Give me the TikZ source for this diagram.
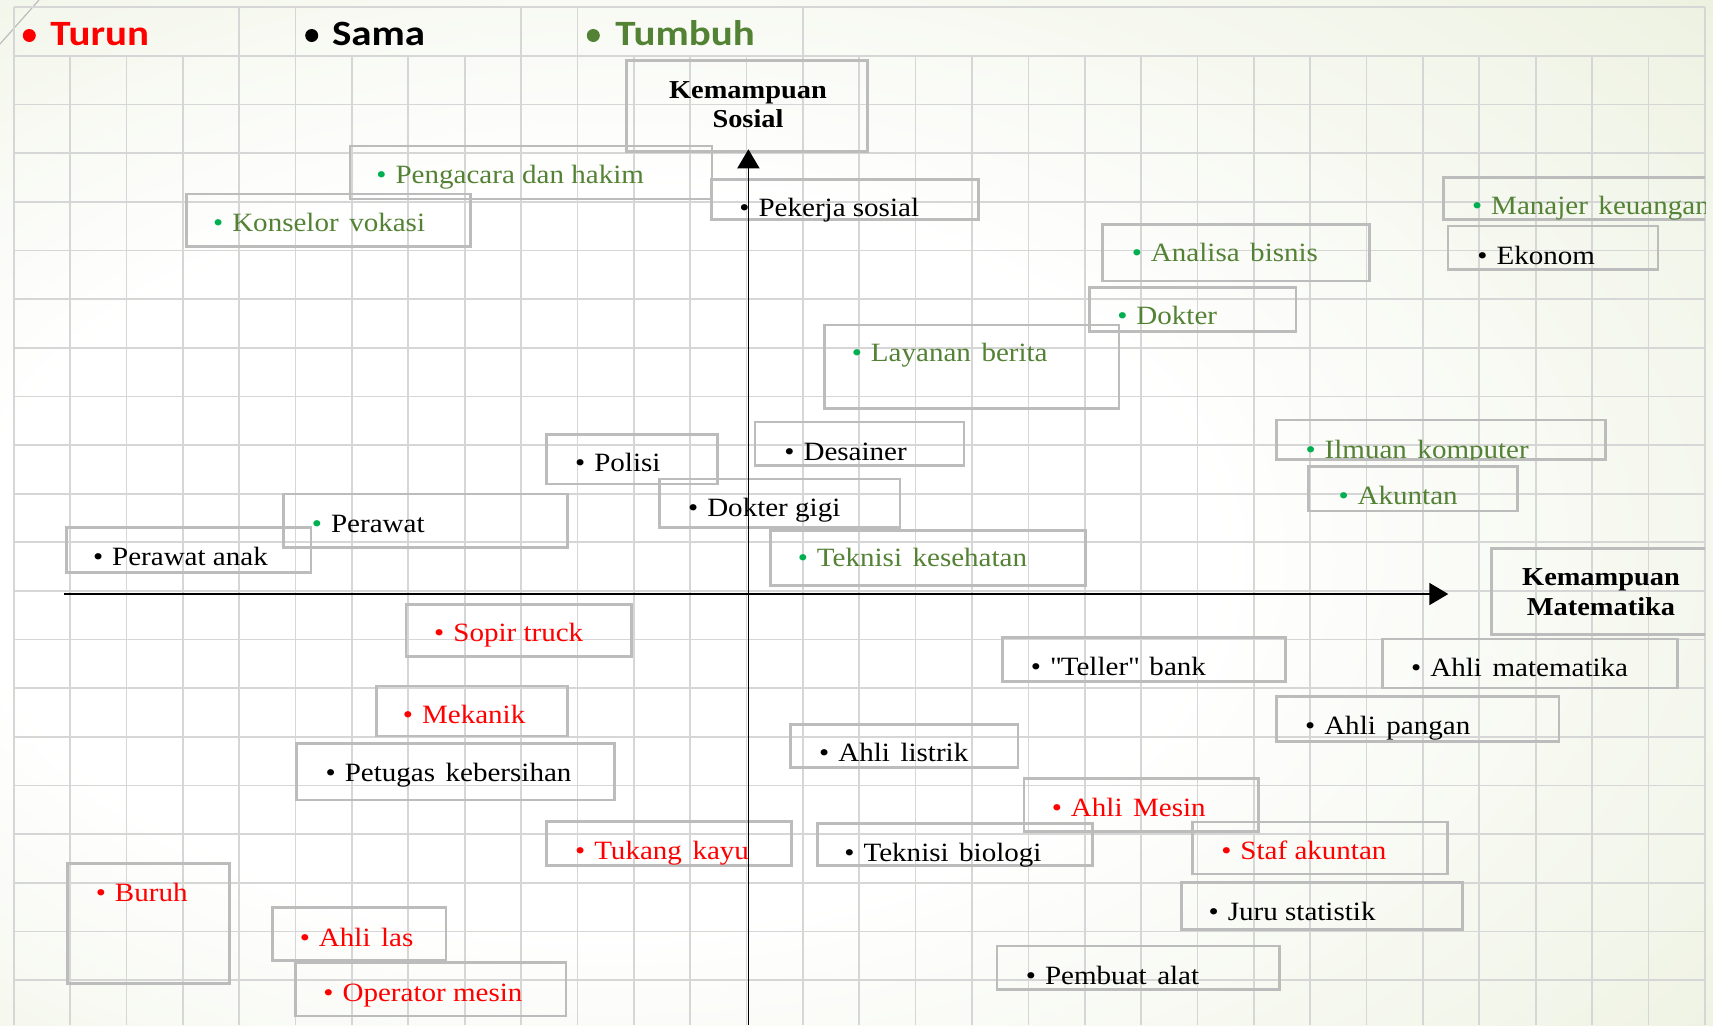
\documentclass[tikz,border=0pt]{standalone}
\usepackage{fontspec}
\setmainfont{Liberation Serif}[FakeStretch=1.1]
\newfontfamily\legfont{Carlito}[FakeStretch=1.15]
\usetikzlibrary{arrows.meta,fit}
\definecolor{gridc}{HTML}{D6D6D6}
\definecolor{boxc}{HTML}{BCBCBC}
\definecolor{tgreen}{HTML}{548235}
\definecolor{bgreen}{HTML}{00B050}
\definecolor{bgmid}{HTML}{EFF3E4}
\definecolor{bgout}{HTML}{DAE3BB}
\pgfdeclareradialshading{slidebg}{\pgfpoint{-10bp}{-3bp}}{color(0bp)=(white); color(18bp)=(white); color(38bp)=(bgmid); color(52bp)=(bgout); color(75bp)=(bgout)}
\newcommand\bul[1]{{\color{#1}\textbullet}\kern4.5pt}
\newcommand\jbx[5]{\node[jbox, fit={(#2,#3) (#4,#5)}] (#1) {};}
\newcommand\jl[6]{\node[lab,text=#5] (#1) at ({#2-5},#3) {\bul{#4}#6};}
\newcommand\dq{\XeTeXglyph\XeTeXcharglyph"0022\relax}
\newcommand\ds{\hspace{0.4em}}
\begin{document}
\begin{tikzpicture}[x=0.5pt,y=-0.5pt,
  gridl/.style={draw=gridc, line width=0.85pt},
  jbox/.style={draw=boxc, line width=1.35pt, inner sep=0pt},
  lab/.style={anchor=base west, inner sep=0pt, font=\fontsize{13.2}{15.5}\selectfont},
  axisl/.style={line width=0.9pt, -{Triangle[length=9.5pt,width=11pt]}},
  ttl/.style={anchor=base, inner sep=0pt, font=\fontsize{12.9}{15}\selectfont\bfseries},
  legtxt/.style={anchor=base west, inner sep=0pt, font=\legfont\bfseries\fontsize{17.8}{20}\selectfont},
  legdot/.style={circle, inner sep=0pt, minimum size=6.5pt}
]
\useasboundingbox (0,0) rectangle (1713,1025);
\shade[shading=slidebg] (0,0) rectangle (1713,1025);
\draw[boxc, line width=0.6pt] (39,0) -- (0,44);
% grid
\foreach \k in {0,...,30} {\draw[gridl] ({13.7+56.37*\k},55.7) -- ({13.7+56.37*\k},1025);}
\foreach \k in {1,...,20} {\draw[gridl] (13.7,{7.3+48.635*\k}) -- (1704.8,{7.3+48.635*\k});}
\draw[gridl] (13.7,7.3) -- (1704.8,7.3);
\foreach \k in {0,4,5,9,10,14,30} {\draw[gridl] ({13.7+56.37*\k},7.3) -- ({13.7+56.37*\k},55.7);}
% legend
\node[legdot, fill=red] (d1) at (29.3,35.5) {};
\node[legtxt, text=red] (t1) at (50,45) {Turun};
\node[legdot, fill=black] (d2) at (311.7,35.5) {};
\node[legtxt] (t2) at (331.7,45) {Sama};
\node[legdot, fill=tgreen] (d3) at (593.3,35.5) {};
\node[legtxt, text=tgreen] (t3) at (615,45) {Tumbuh};
\begin{scope}
\clip (0,0) rectangle (1705,1025);
% axis titles
\jbx{sosbox}{626.3}{60.7}{867.6}{151.7}
\node[ttl] (sos1) at (748,98.3) {Kemampuan};
\node[ttl] (sos2) at (748,127.7) {Sosial};
\jbx{matbox}{1491.7}{548.3}{1712}{634.3}
\node[ttl] (mat1) at (1601,585.7) {Kemampuan};
\node[ttl] (mat2) at (1601,615.7) {Matematika};
% items
\jbx{b1}{350}{146}{712}{199}            \jl{l1}{381}{183}{bgreen}{tgreen}{Pengacara dan hakim}
\jbx{b2}{186.5}{194}{470.6}{246.7}      \jl{l2}{217.7}{231}{bgreen}{tgreen}{Konselor\ds vokasi}
\jbx{b3}{711.8}{179.3}{978.6}{219.3}    \jl{l3}{744}{216}{black}{black}{Pekerja sosial}
\jbx{b4}{1443.4}{177.3}{1712}{219.3}    \jl{l4}{1476.6}{214}{bgreen}{tgreen}{Manajer\ds keuangan}
\jbx{b5}{1448}{226}{1658}{269.3}        \jl{l5}{1482}{264}{black}{black}{Ekonom}
\jbx{b6}{1102.3}{224.3}{1369.3}{281}    \jl{l6}{1136.4}{261.7}{bgreen}{tgreen}{Analisa\ds bisnis}
\jbx{b7}{1089.6}{287.7}{1296}{331.7}    \jl{l7}{1121.9}{324.3}{bgreen}{tgreen}{Dokter}
\jbx{b8}{824.3}{325}{1119.1}{408.3}     \jl{l8}{856.4}{361.7}{bgreen}{tgreen}{Layanan\ds berita}
\jbx{b9}{755}{422}{964}{465.7}          \jl{l9}{789}{460}{black}{black}{Desainer}
\jbx{b10}{546.8}{434.3}{717.4}{484}     \jl{l10}{579.7}{471.7}{black}{black}{Polisi}
\jbx{b11}{659.2}{479}{900}{527.3}       \jl{l11}{692.7}{516.7}{black}{black}{Dokter gigi}
\jbx{b12}{283.6}{494}{567.6}{547.3}     \jl{l12}{316.5}{532.3}{bgreen}{black}{Perawat}
\jbx{b13}{66.4}{527.3}{311}{572.7}      \jl{l13}{97.6}{565}{black}{black}{Perawat anak}
\jbx{b14}{770.6}{530.7}{1085.6}{585.7}  \jl{l14}{802.4}{566.7}{bgreen}{tgreen}{Teknisi\ds kesehatan}
\jbx{b15}{1276.6}{420}{1605.7}{459.3}
\begin{scope}
\clip (1276.6,420) rectangle (1605.7,459.3);
\jl{l15}{1310.1}{458.3}{bgreen}{tgreen}{Ilmuan\ds komputer}
\end{scope}
\jbx{b16}{1308.5}{466.7}{1517.6}{511}   \jl{l16}{1343.1}{504.3}{bgreen}{tgreen}{Akuntan}
\jbx{b17}{405.9}{604.3}{631.8}{656.7}   \jl{l17}{438.8}{641.7}{red}{red}{Sopir truck}
\jbx{b18}{1002.5}{637.7}{1285.4}{681.7} \jl{l18}{1035.5}{675}{black}{black}{\dq Teller\dq\ds bank}
\jbx{b19}{1382.2}{639}{1677.2}{688}     \jl{l19}{1415.8}{676.7}{black}{black}{Ahli\ds matematika}
\jbx{b20}{376.2}{686}{567.6}{736}       \jl{l20}{407.5}{723.3}{red}{red}{Mekanik}
\jbx{b21}{1276.7}{696.5}{1559}{741.3}   \jl{l21}{1309.7}{734}{black}{black}{Ahli\ds pangan}
\jbx{b22}{790.3}{724.3}{1017.9}{767.3}  \jl{l22}{823.8}{761.7}{black}{black}{Ahli\ds listrik}
\jbx{b23}{296.7}{743.3}{614.3}{800}     \jl{l23}{330.2}{781}{black}{black}{Petugas\ds kebersihan}
\jbx{b24}{1023.9}{778.3}{1258.4}{831.7} \jl{l24}{1056.4}{816.7}{red}{red}{Ahli\ds Mesin}
\jbx{b25}{546.8}{821.7}{791.4}{865.7}   \jl{l25}{579.7}{859.3}{red}{red}{Tukang\ds kayu}
\jbx{b26}{817.2}{823.3}{1092.2}{865.7}  \jl{l26}{849}{861.7}{black}{black}{Teknisi\ds biologi}
\jbx{b27}{1192.3}{822}{1447.2}{874}     \jl{l27}{1225.9}{859.3}{red}{red}{Staf akuntan}
\jbx{b28}{67.5}{863.3}{229.3}{983.3}    \jl{l28}{100.4}{901}{red}{red}{Buruh}
\jbx{b29}{1181.3}{882.3}{1462.6}{929.3} \jl{l29}{1213.3}{920}{black}{black}{Juru statistik}
\jbx{b30}{272.6}{907.3}{445.9}{960.7}   \jl{l30}{304.4}{946}{red}{red}{Ahli\ds las}
\jbx{b31}{997}{946}{1279.3}{989.3}      \jl{l31}{1030.5}{984}{black}{black}{Pembuat\ds alat}
\jbx{b32}{295.6}{962.3}{566}{1016}      \jl{l32}{328}{1001}{red}{red}{Operator mesin}
% axes
\coordinate (vbot) at (748.4,1025);
\coordinate (vtop) at (748.4,149.3);
\coordinate (hl) at (64,594);
\coordinate (hr) at (1448.3,594);
\draw[axisl] (vbot) -- (vtop);
\draw[axisl] (hl) -- (hr);
\end{scope}
\end{tikzpicture}
\end{document}
